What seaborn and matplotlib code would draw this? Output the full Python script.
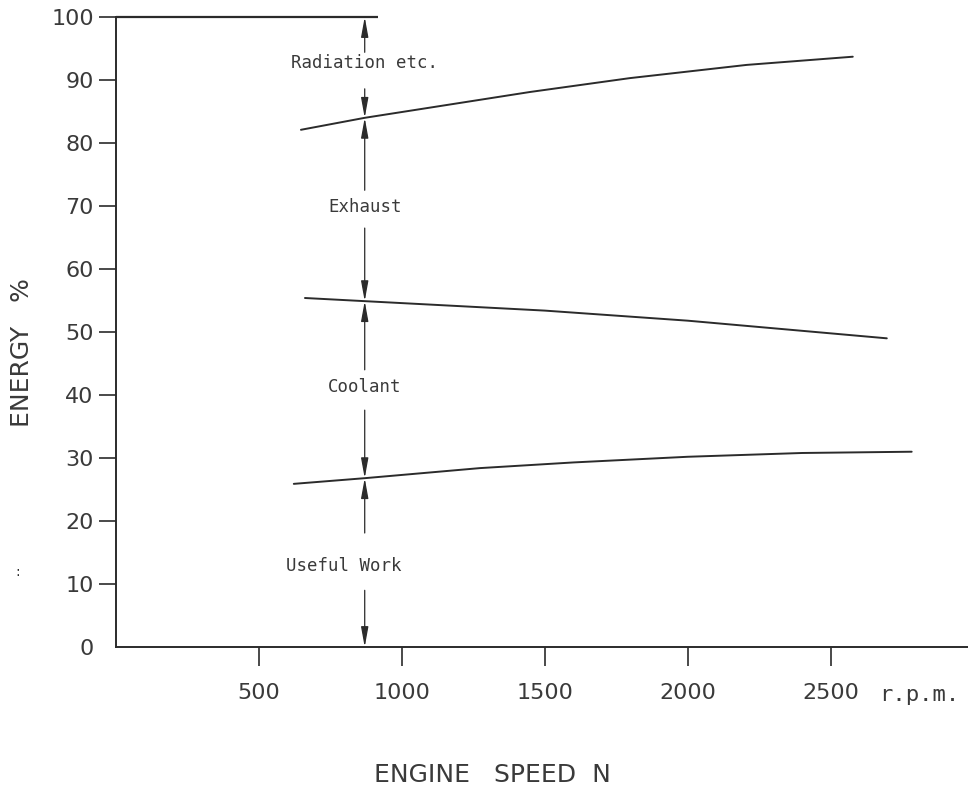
import numpy as np
import pandas as pd
import seaborn as sns
import matplotlib.pyplot as plt

# ---- data ----
rpm_work = [622, 870, 1273, 1600, 2000, 2400, 2783]
pct_work = [25.9, 26.8, 28.4, 29.3, 30.2, 30.8, 31.0]

rpm_coolant = [661, 870, 1500, 2000, 2696]
pct_coolant = [55.4, 54.9, 53.4, 51.8, 49.0]

rpm_exhaust = [647, 870, 1448, 1797, 2206, 2577]
pct_exhaust = [82.1, 84.0, 88.1, 90.3, 92.4, 93.7]

x_ticks = [500, 1000, 1500, 2000, 2500]
y_ticks = [0, 10, 20, 30, 40, 50, 60, 70, 80, 90, 100]

arrow_rpm = 870
top_line_end = 915
band_labels = ["Radiation etc.", "Exhaust", "Coolant", "Useful Work"]
band_label_y = [92.7, 69.8, 41.3, 12.9]
band_label_x = [870, 870, 870, 797]
# (start, end) of each arrow shaft, head at the end
arrow_segments = [(94.4, 100), (88.6, 84.0), (72.5, 84.0), (66.5, 54.9),
                  (44.0, 54.9), (37.6, 26.8), (18.1, 26.8), (9.0, 0)]

sns.set_style("white")
plt.rcParams["font.family"] = ["DejaVu Sans"]

ink = "#2b2b2b"
txt = "#3a3a3a"
fig = plt.figure(figsize=(9.68, 7.88), dpi=100)
ax = fig.add_axes([0.1198, 0.1789, 0.8802, 0.7995])

curves = [(rpm_work, pct_work), (rpm_coolant, pct_coolant), (rpm_exhaust, pct_exhaust)]
for xs, ys in curves:
    df = pd.DataFrame({"rpm": xs, "pct": ys})
    sns.lineplot(data=df, x="rpm", y="pct", ax=ax, color=ink, lw=1.4,
                 sort=False, estimator=None)

# top boundary at 100 %
ax.hlines(100, 0, top_line_end, color=ink, lw=1.6, clip_on=False)

# arrows along the measurement line
for y0, y1 in arrow_segments:
    ax.annotate("", xy=(arrow_rpm, y1), xytext=(arrow_rpm, y0),
                arrowprops=dict(arrowstyle="-|>,head_length=1.1,head_width=0.2",
                                color=ink, lw=0.9, shrinkA=0, shrinkB=0,
                                mutation_scale=11),
                annotation_clip=False)

for lab, lx, ly in zip(band_labels, band_label_x, band_label_y):
    ax.text(lx, ly, lab, ha="center", va="center", fontsize=12.5,
            family="DejaVu Sans Mono", color=txt)

ax.set_xlim(0, 2980)
ax.set_ylim(0, 100)
ax.set_xticks(x_ticks)
ax.set_yticks(y_ticks)
ax.set_xlabel("")
ax.set_ylabel("")
ax.tick_params(axis="x", direction="out", length=14, width=1.2, pad=12,
               labelsize=16, colors=ink, labelcolor=txt, bottom=True)
ax.tick_params(axis="y", direction="out", length=12, width=1.2, pad=4,
               labelsize=16, colors=ink, labelcolor=txt, left=True)
ax.yaxis.get_major_ticks()[0].tick1line.set_visible(False)

for side in ["top", "right"]:
    ax.spines[side].set_visible(False)
for side in ["left", "bottom"]:
    ax.spines[side].set_color(ink)
    ax.spines[side].set_linewidth(1.4)

fig.text(879 / 968, 1 - 695 / 788, "r.p.m.", ha="left", va="center",
         fontsize=16, family="DejaVu Sans Mono", color=txt)
fig.text(492 / 968, 1 - 775 / 788, "ENGINE   SPEED  N",
         ha="center", va="center", fontsize=18, color=txt)
fig.text(22 / 968, 1 - 353 / 788, "ENERGY   %", rotation=90,
         ha="center", va="center", fontsize=18, color=txt)
fig.text(18 / 968, 1 - 572 / 788, ":", ha="center", va="center",
         fontsize=10, color=ink)

fig.savefig("out.png", dpi=100)
